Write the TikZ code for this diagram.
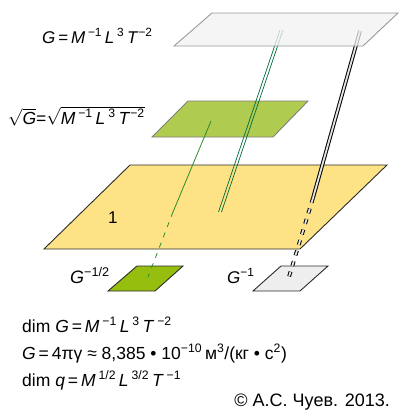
\documentclass[tikz,border=0pt]{standalone}
\usepackage{fontspec}
\setmainfont{Liberation Sans}
\usetikzlibrary{calc}
\definecolor{topplane}{HTML}{F2F2F2}
\definecolor{topplaneborder}{HTML}{9A9A9A}
\definecolor{midgreen}{HTML}{AFCB50}
\definecolor{midgreenborder}{HTML}{7F7F7F}
\definecolor{unitplane}{HTML}{FDE385}
\definecolor{smallgreen}{HTML}{96BE0E}
\definecolor{smallgray}{HTML}{EEEEEE}
\definecolor{edgedark}{HTML}{2B2B2B}
\definecolor{rootline}{HTML}{2E8B2E}
\definecolor{gline}{HTML}{006B3C}
\newcommand{\ex}[1]{\textsuperscript{#1}}
\newcommand{\vi}[1]{\textit{#1}}

\begin{document}
\begin{tikzpicture}[x=1pt, y=-1pt,
    plane/.style={line width=0.9pt, line join=miter},
    lbl/.style={anchor=base west, inner sep=0pt, font=\fontsize{17}{20}\selectfont},
    txt/.style={anchor=base west, inner sep=0pt, font=\fontsize{17.5}{20}\selectfont},
    rootlink/.style={draw=rootline, line width=0.8pt},
    glink/.style={draw=gline, line width=0.7pt},
    invlink/.style={draw=black, double=gray!20, line width=1pt, double distance=1.8pt},
    gaps/.style={dash pattern=on 5pt off 6pt}
  ]
  \useasboundingbox (0,0) rectangle (399,416);

  % planes below
  \draw[plane, fill=unitplane, draw=edgedark] (44,249) -- (300,249) -- (387,165) -- (130,165) -- cycle;
  \draw[plane, fill=smallgreen, draw=edgedark] (108,291) -- (155,291) -- (183,266) -- (137,266) -- cycle;
  \draw[plane, fill=smallgray, draw=edgedark] (253,291) -- (300,291) -- (328,266) -- (281,266) -- cycle;
  \draw[plane, fill=midgreen, draw=midgreenborder] (152,137) -- (273,137) -- (308,101) -- (188,101) -- cycle;

  % end points of the links
  \coordinate (rootTop) at (211,121);
  \coordinate (rootCut) at (173,212);
  \coordinate (rootEnd) at (148,277);
  \coordinate (gTop) at (281.5,30);
  \coordinate (gEnd) at (220,212);
  \coordinate (invTop) at (360,31);
  \coordinate (invCut) at (313,198);
  \coordinate (invEnd) at (288,280);

  \draw[rootlink] (rootTop) -- (rootCut);
  \draw[rootlink, gaps] (rootCut) -- (rootEnd);
  \draw[glink] ([xshift=-1.5pt]gTop) -- ([xshift=-1.5pt]gEnd);
  \draw[glink] ([xshift=1.5pt]gTop) -- ([xshift=1.5pt]gEnd);
  \draw[invlink] (invTop) -- (invCut);
  \draw[invlink, gaps] (invCut) -- (invEnd);

  % top plane, seen through
  \draw[plane, fill=topplane, fill opacity=0.75, draw=topplaneborder] (174,46) -- (363,46) -- (398,13) -- (212,13) -- cycle;

  % labels
  \node[lbl] (gLabel) at (42,43) {\vi{G}\,=\,\vi{M}\,\ex{−1}\,\vi{L}\,\ex{3}\,\vi{T}\ex{−2}};
  \node[lbl, font=\fontsize{17.5}{20}\selectfont] (rootLabel) at (8,124) {$\sqrt{\hbox{\vi{G}}}$=$\sqrt{\hbox{\vi{M}\,\ex{−1}\,\vi{L}\,\ex{3}\,\vi{T}\ex{−2}}}$};
  \node[lbl] (oneLabel) at (108,223) {1};
  \node[lbl, font=\fontsize{18}{20}\selectfont] (halfLabel) at (70,283) {\vi{G}\ex{−1/2}};
  \node[lbl] (invLabel) at (227,283) {\vi{G}\ex{−1}};

  % formulas
  \node[txt] (dimG) at (22,332) {dim \vi{G}\,=\,\vi{M}\,\ex{−1}\,\vi{L}\,\ex{3}\,\vi{T}\,\ex{−2}};
  \node[txt] (valG) at (22,359) {\vi{G}\,=\,4πγ\;≈\;8,385\;•\;10\ex{−10}\,м\ex{3}/(кг\;•\;с\ex{2})};
  \node[txt] (dimq) at (22,386) {dim \vi{q}\,=\,\vi{M}\,\ex{1/2}\,\vi{L}\,\ex{3/2}\,\vi{T}\,\ex{−1}};
  \node[txt, anchor=base east, font=\fontsize{18}{20}\selectfont] (author) at (390,406) {© А.С. Чуев. 2013.};
\end{tikzpicture}
\end{document}
